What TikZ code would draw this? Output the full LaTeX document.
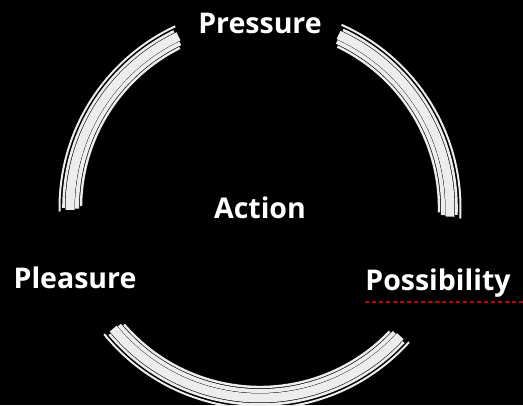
\documentclass[tikz,border=0pt]{standalone}
\usepackage{fontspec}
\setmainfont{Open Sans}
\usetikzlibrary{positioning}
\tikzset{
  felirat/.style={font=\fontsize{28.5}{32}\selectfont\bfseries,text=white,inner sep=1pt},
  ecset/.style={draw=white!93!black},
  alahuzas/.style={draw=red!75!black,line width=1.1pt,dash pattern=on 4pt off 3pt},
}
\begin{document}
\begin{tikzpicture}[x=1pt,y=1pt]
  \fill[black] (0,0) rectangle (523,405);
  \useasboundingbox (0,0) rectangle (523,405);
  \coordinate (o) at (260,197);
  % ecsetvonasok: harom iv, ot szal
  \foreach \a/\b in {115/181,-3/66,219/318}
    \foreach \r/\w/\d in {200.5/2/0,196.5/2.6/1,190/9/0.4,183/4/0.8,179/2.4/1.6}
      \draw[ecset,line width=\w] (o) ++(\a+\d:\r) arc (\a+\d:\b-\d:\r);
  \node[felirat] (action) at (o) {Action};
  \node[felirat] (pressure) at (260,382) {Pressure};
  \node[felirat] (pleasure) at (75,127) {Pleasure};
  \node[felirat] (possibility) at (438,122) {Possibility};
  \coordinate (vege) at (523,103);
  \draw[alahuzas] (365,103) -- (vege);
\end{tikzpicture}
\end{document}
